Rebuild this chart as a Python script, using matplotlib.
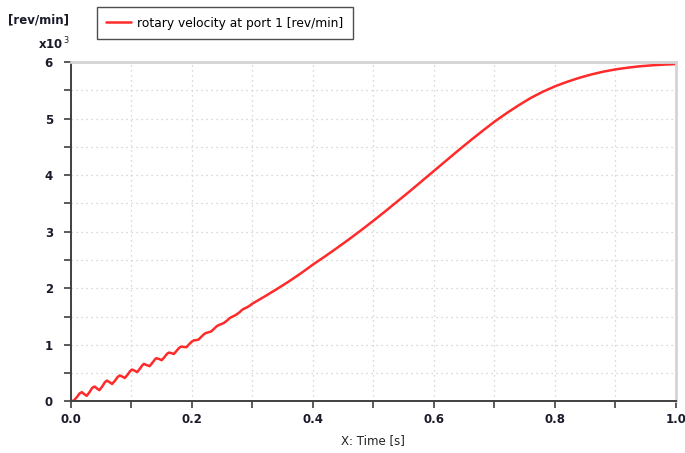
import matplotlib
matplotlib.use("Agg")
import matplotlib.pyplot as plt
from matplotlib.ticker import MultipleLocator, FixedLocator

# Data (time in s, rotary velocity in 1e3 rev/min)
time_s = [0.000, 0.005, 0.010, 0.014, 0.018, 0.022, 0.026, 0.031, 0.035, 0.039,
          0.043, 0.047, 0.052, 0.056, 0.0595, 0.064, 0.068, 0.073, 0.077, 0.0805,
          0.085, 0.089, 0.094, 0.098, 0.101, 0.105, 0.1095, 0.114, 0.118, 0.1205,
          0.125, 0.130, 0.135, 0.139, 0.141, 0.146, 0.150, 0.155, 0.159, 0.162,
          0.166, 0.170, 0.175, 0.179, 0.182, 0.186, 0.191, 0.196, 0.200, 0.203,
          0.207, 0.211, 0.216, 0.220, 0.223, 0.228, 0.232, 0.237, 0.241, 0.244,
          0.249, 0.253, 0.258, 0.262, 0.265, 0.270, 0.274, 0.279, 0.283, 0.286,
          0.291, 0.295, 0.300, 0.320, 0.340, 0.360, 0.380, 0.400, 0.420, 0.440,
          0.460, 0.480, 0.500, 0.520, 0.540, 0.560, 0.580, 0.600, 0.620, 0.640,
          0.660, 0.680, 0.700, 0.720, 0.740, 0.760, 0.780, 0.800, 0.820, 0.840,
          0.860, 0.880, 0.900, 0.920, 0.940, 0.960, 0.980, 1.000]
velocity_k = [0.000, 0.020, 0.080, 0.140, 0.165, 0.130, 0.100, 0.170, 0.240, 0.265,
              0.230, 0.200, 0.270, 0.340, 0.370, 0.340, 0.310, 0.370, 0.430, 0.460,
              0.440, 0.415, 0.480, 0.540, 0.565, 0.545, 0.520, 0.580, 0.640, 0.665,
              0.645, 0.625, 0.690, 0.745, 0.765, 0.750, 0.730, 0.790, 0.845, 0.865,
              0.855, 0.840, 0.900, 0.950, 0.970, 0.965, 0.960, 1.020, 1.060, 1.080,
              1.085, 1.095, 1.150, 1.190, 1.210, 1.225, 1.240, 1.290, 1.330, 1.350,
              1.370, 1.390, 1.430, 1.470, 1.490, 1.515, 1.540, 1.580, 1.620, 1.640,
              1.665, 1.690, 1.730, 1.855, 1.985, 2.120, 2.265, 2.420, 2.565, 2.715,
              2.870, 3.030, 3.195, 3.365, 3.540, 3.715, 3.895, 4.075, 4.255, 4.435,
              4.610, 4.780, 4.945, 5.095, 5.235, 5.365, 5.475, 5.570, 5.650, 5.720,
              5.780, 5.830, 5.870, 5.900, 5.925, 5.942, 5.955, 5.965]

legend_label = "rotary velocity at port 1 [rev/min]"
x_label = "X: Time [s]"
y_unit = "[rev/min]"
x_ticks = [0.0, 0.2, 0.4, 0.6, 0.8, 1.0]
y_ticks = [0, 1, 2, 3, 4, 5, 6]

plt.rcParams['font.family'] = ['DejaVu Sans']
fig = plt.figure(figsize=(6.85, 4.53), dpi=100)
ax = fig.add_axes([0.1036, 0.1137, 0.883, 0.7493])

ax.plot(time_s, velocity_k, color='#ff2a2a', lw=1.8, label=legend_label,
        solid_joinstyle='round', solid_capstyle='round')

ax.set_xlim(0, 1.0)
ax.set_ylim(0, 6)
ax.xaxis.set_major_locator(FixedLocator(x_ticks))
ax.xaxis.set_minor_locator(MultipleLocator(0.1))
ax.yaxis.set_major_locator(FixedLocator(y_ticks))
ax.yaxis.set_minor_locator(MultipleLocator(0.5))
ax.set_xticklabels([f"{v:.1f}" for v in x_ticks], fontsize=8.5, fontweight='bold',
                   color='#1a1a2a')
ax.set_yticklabels([str(v) for v in y_ticks], fontsize=8.5, fontweight='bold',
                   color='#1a1a2a')
ax.tick_params(which='both', direction='out', length=5, width=1.2, color='#404040')
ax.tick_params(axis='x', which='major', pad=3)
ax.tick_params(axis='y', which='major', pad=8)

ax.grid(which='both', linestyle=(0, (1, 3)), color='#cccccc', lw=0.9)
ax.set_axisbelow(True)

for s in ['left', 'bottom']:
    ax.spines[s].set_color('#404040')
    ax.spines[s].set_linewidth(1.4)
for s in ['top', 'right']:
    ax.spines[s].set_color('#d4d4d4')
    ax.spines[s].set_linewidth(2.0)

ax.set_xlabel(x_label, fontsize=8.5, color='#222222', labelpad=6)

fig.text(0.012, 0.955, y_unit, fontsize=8.5, fontweight='bold', color='#1a1a2a',
         ha='left', va='center')
fig.text(0.055, 0.903, r"x10$^{\,3}$", fontsize=8.5, fontweight='bold',
         color='#1a1a2a', ha='left', va='center')

leg = ax.legend(loc='upper left', bbox_to_anchor=(0.141, 0.985),
                bbox_transform=fig.transFigure, fontsize=8.8, frameon=True,
                fancybox=False, handlelength=2.0, handletextpad=0.5,
                borderpad=0.8, borderaxespad=0)
leg.get_frame().set_edgecolor('#222222')
leg.get_frame().set_linewidth(1.0)

fig.savefig("out.png", dpi=100)
